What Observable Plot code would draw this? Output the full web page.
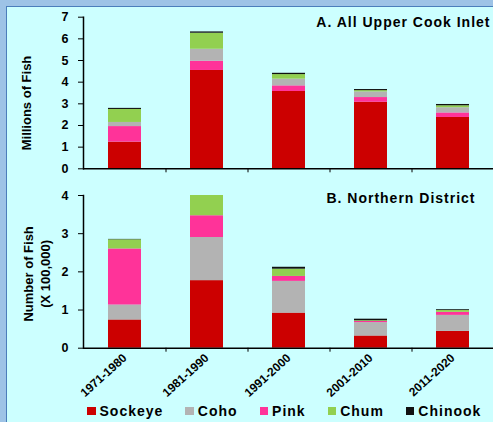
<!DOCTYPE html>
<html><head><meta charset="utf-8">
<script src="https://cdn.jsdelivr.net/npm/d3@7"></script>
<script src="https://cdn.jsdelivr.net/npm/@observablehq/plot@0.6"></script>
<style>
html,body{margin:0;padding:0;}
body{width:493px;height:422px;background:#9dc3e6;position:relative;overflow:hidden;font-family:"Liberation Sans",Arial,sans-serif;}
#panel{position:absolute;left:6px;top:6px;right:0;bottom:0;background:#ccffff;border-left:1px solid #4a7ebb;border-top:1px solid #4a7ebb;}
#chartA{position:absolute;left:0;top:0;}
#chartB{position:absolute;left:0;top:180px;}
#legend{position:absolute;left:87px;top:403px;display:flex;gap:22px;font-weight:bold;font-size:14px;letter-spacing:1px;color:#000;line-height:16px;}
#legend .item{display:flex;align-items:center;}
#legend .sw{width:8.5px;height:8px;margin-right:4px;}
.title text{letter-spacing:1px;}
</style>
</head><body>
<div id="panel"></div>
<div id="chartA"></div>
<div id="chartB"></div>
<div id="legend"></div>
<script>
const periods = ["1971-1980","1981-1990","1991-2000","2001-2010","2011-2020"];
const speciesNames = ["Sockeye","Coho","Pink","Chum","Chinook"];
const speciesColors = ["#cc0000","#b3b3b3","#ff3399","#92d050","#111111"];

// Panel A: All Upper Cook Inlet (millions of fish)
const sockeyeA = [1.23, 4.54, 3.57, 3.07, 2.37];
const pinkA    = [0.72, 0.43, 0.26, 0.22, 0.21];
const cohoA    = [0.19, 0.55, 0.31, 0.26, 0.24];
const chumA    = [0.60, 0.74, 0.21, 0.06, 0.09];
const chinookA = [0.05, 0.06, 0.06, 0.05, 0.06];
const orderA = ["Sockeye","Pink","Coho","Chum","Chinook"];

// Panel B: Northern District (x 100,000 fish)
const sockeyeB = [0.74, 1.77, 0.92, 0.32, 0.44];
const cohoB    = [0.39, 1.13, 0.83, 0.35, 0.42];
const pinkB    = [1.47, 0.57, 0.13, 0.03, 0.08];
const chumB    = [0.24, 0.53, 0.19, 0.02, 0.05];
const chinookB = [0.01, 0.00, 0.05, 0.04, 0.02];
const orderB = ["Sockeye","Coho","Pink","Chum","Chinook"];

const ticksA = [0,1,2,3,4,5,6,7];
const ticksB = [0,1,2,3,4];
const titleA = "A. All Upper Cook Inlet";
const titleB = "B. Northern District";
const ylabelA = "Millions of Fish";
const ylabelB = "Number of Fish\n(X 100,000)";

function rows(series) {
  return periods.flatMap((p, i) => series.map(([s, v]) => ({period: p, species: s, value: v[i]})));
}
const dataA = rows([["Sockeye",sockeyeA],["Pink",pinkA],["Coho",cohoA],["Chum",chumA],["Chinook",chinookA]]);
const dataB = rows([["Sockeye",sockeyeB],["Coho",cohoB],["Pink",pinkB],["Chum",chumB],["Chinook",chinookB]]);

const FONT = "'Liberation Sans', Arial, sans-serif";
const fmt = d3.format("d");
const common = {
  width: 493,
  marginLeft: 83, marginRight: 0,
  style: {background: "none", fontFamily: FONT, fontSize: "12px", fontWeight: "bold", color: "#000", overflow: "visible"},
  x: {domain: periods, paddingInner: 0.6, paddingOuter: 0.3, axis: null},
  color: {domain: speciesNames, range: speciesColors}
};

const chartA = Plot.plot({
  ...common,
  height: 180, marginTop: 16.7, marginBottom: 11.7,
  y: {domain: [0, 7], axis: null},
  marks: [
    Plot.barY(dataA, {x: "period", y: "value", fill: "species", order: orderA}),
    Plot.ruleY([0], {stroke: "#000", strokeWidth: 1.5}),
    Plot.frame({anchor: "left", stroke: "#000", strokeWidth: 1.5}),
    Plot.axisY({ticks: ticksA, tickFormat: fmt, tickSize: 5, tickPadding: 10, label: null, fontSize: 12.5}),
    Plot.axisX({tickSize: 4, dx: 41, tickFormat: () => "", label: null}),
    Plot.text([ylabelA], {frameAnchor: "left", textAnchor: "middle", lineAnchor: "middle", rotate: -90, dx: -56.5, dy: 10, fontSize: 13}),
    Plot.text([titleA], {frameAnchor: "top-right", textAnchor: "end", lineAnchor: "middle", dx: -3, dy: 5.3, fontSize: 14})
  ]
});
chartA.querySelectorAll('g[aria-label="text"]').forEach((g, i) => { if (i === 1) g.classList.add("title"); });
document.getElementById("chartA").append(chartA);

const chartB = Plot.plot({
  ...common,
  height: 220, marginTop: 15, marginBottom: 52.3,
  y: {domain: [0, 4], axis: null},
  marks: [
    Plot.barY(dataB, {x: "period", y: "value", fill: "species", order: orderB}),
    Plot.ruleY([0], {stroke: "#000", strokeWidth: 1.5}),
    Plot.frame({anchor: "left", stroke: "#000", strokeWidth: 1.5}),
    Plot.axisY({ticks: ticksB, tickFormat: fmt, tickSize: 5, tickPadding: 10, label: null, fontSize: 12.5}),
    Plot.axisX({tickSize: 4, dx: 41, tickFormat: () => "", label: null}),
    Plot.axisX({tickSize: 0, tickPadding: 8, tickRotate: -42, label: null, fontSize: 12}),
    Plot.text([ylabelB], {frameAnchor: "left", textAnchor: "middle", lineAnchor: "middle", rotate: -90, dx: -47, dy: 2, fontSize: 13, lineHeight: 1.3}),
    Plot.text([titleB], {frameAnchor: "top-right", textAnchor: "end", lineAnchor: "middle", dx: -18, dy: 3, fontSize: 14})
  ]
});
chartB.querySelectorAll('g[aria-label="text"]').forEach((g, i) => { if (i === 1) g.classList.add("title"); });
document.getElementById("chartB").append(chartB);

const legend = document.getElementById("legend");
speciesNames.forEach((s, i) => {
  const item = document.createElement("div");
  item.className = "item";
  const sw = document.createElement("span");
  sw.className = "sw";
  sw.style.background = speciesColors[i];
  const t = document.createElement("span");
  t.textContent = s;
  item.append(sw, t);
  legend.append(item);
});
</script>
</body></html>
